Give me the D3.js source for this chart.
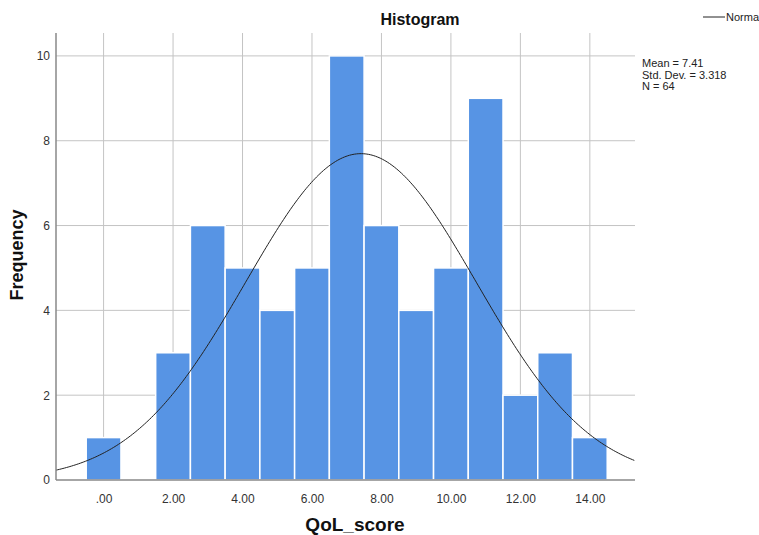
<html>
<head>
<script src="https://d3js.org/d3.v7.min.js"></script>
<style>
body { margin: 0; background: #fff; }
text { font-family: "Liberation Sans", Arial, sans-serif; }
</style>
</head>
<body>
<svg id="chart" width="759" height="535"></svg>
<script>
const binCenters = [0, 1, 2, 3, 4, 5, 6, 7, 8, 9, 10, 11, 12, 13, 14];
const counts = [1, 0, 3, 6, 5, 4, 5, 10, 6, 4, 5, 9, 2, 3, 1];
const xTicks = [0, 2, 4, 6, 8, 10, 12, 14];
const yTicks = [0, 2, 4, 6, 8, 10];
const mean = 7.41, sd = 3.318, n = 64;
const statLines = ["Mean = 7.41", "Std. Dev. = 3.318", "N = 64"];

const svg = d3.select("svg#chart");
const plotL = 56, plotR = 635, plotT = 33, plotB = 480;

const x = d3.scaleLinear().domain([-1.37, 15.3]).range([plotL, plotR]);
const y = d3.scaleLinear().domain([0, 10.54]).range([plotB, plotT]);

const grid = svg.append("g");
grid.selectAll("line.v").data(xTicks).join("line")
  .attr("x1", d => x(d)).attr("x2", d => x(d))
  .attr("y1", plotT).attr("y2", plotB)
  .attr("stroke", "#c4c4c4");
grid.selectAll("line.h").data(yTicks.slice(1)).join("line")
  .attr("x1", plotL).attr("x2", plotR)
  .attr("y1", d => y(d)).attr("y2", d => y(d))
  .attr("stroke", "#c4c4c4");

svg.append("g").selectAll("rect").data(binCenters).join("rect")
  .attr("x", d => x(d - 0.5))
  .attr("width", d => x(d + 0.5) - x(d - 0.5))
  .attr("y", (d, i) => y(counts[i]))
  .attr("height", (d, i) => y(0) - y(counts[i]))
  .attr("fill", "#5794e4")
  .attr("stroke", "#ffffff")
  .attr("stroke-width", 1.5);

// normal curve
const pts = d3.range(x.domain()[0], x.domain()[1] + 0.01, 0.05);
const pdf = v => n * Math.exp(-0.5 * ((v - mean) / sd) ** 2) / (sd * Math.sqrt(2 * Math.PI));
svg.append("path")
  .datum(pts)
  .attr("d", d3.line().x(d => x(d)).y(d => y(pdf(d))))
  .attr("fill", "none")
  .attr("stroke", "#222")
  .attr("stroke-width", 1);

// axes
const xAxis = svg.append("g").attr("transform", `translate(0,${plotB})`)
  .call(d3.axisBottom(x).tickValues(xTicks).tickSize(0).tickPadding(14)
    .tickFormat(d => d === 0 ? ".00" : d3.format(".2f")(d)));
xAxis.select(".domain").attr("d", `M${plotL},0H${plotR}`).attr("stroke", "#888").attr("stroke-width", 1.5);

const yAxis = svg.append("g").attr("transform", `translate(${plotL},0)`)
  .call(d3.axisLeft(y).tickValues(yTicks).tickSize(0).tickPadding(6));
yAxis.select(".domain").attr("d", `M0,${plotT}V${plotB}`).attr("stroke", "#888").attr("stroke-width", 1.5);

svg.selectAll(".tick text")
  .attr("font-family", "Liberation Sans, Arial, sans-serif")
  .attr("font-size", 12).attr("fill", "#333");

svg.append("text").attr("x", 420).attr("y", 25).attr("text-anchor", "middle")
  .attr("font-size", 16).attr("font-weight", "bold").attr("fill", "#111").text("Histogram");

svg.append("text").attr("transform", "translate(23,255) rotate(-90)")
  .attr("text-anchor", "middle").attr("font-size", 18).attr("font-weight", "bold")
  .attr("fill", "#111").text("Frequency");

svg.append("text").attr("x", 355).attr("y", 531).attr("text-anchor", "middle")
  .attr("font-size", 19).attr("font-weight", "bold").attr("fill", "#111").text("QoL_score");

// legend
svg.append("line").attr("x1", 703).attr("x2", 725).attr("y1", 17).attr("y2", 17)
  .attr("stroke", "#222");
svg.append("text").attr("x", 726).attr("y", 21).attr("font-size", 11).attr("fill", "#222").text("Norma");

svg.append("g").selectAll("text").data(statLines).join("text")
  .attr("x", 642).attr("y", (d, i) => 67 + i * 11.5)
  .attr("font-size", 11).attr("fill", "#222").text(d => d);
</script>
</body>
</html>
